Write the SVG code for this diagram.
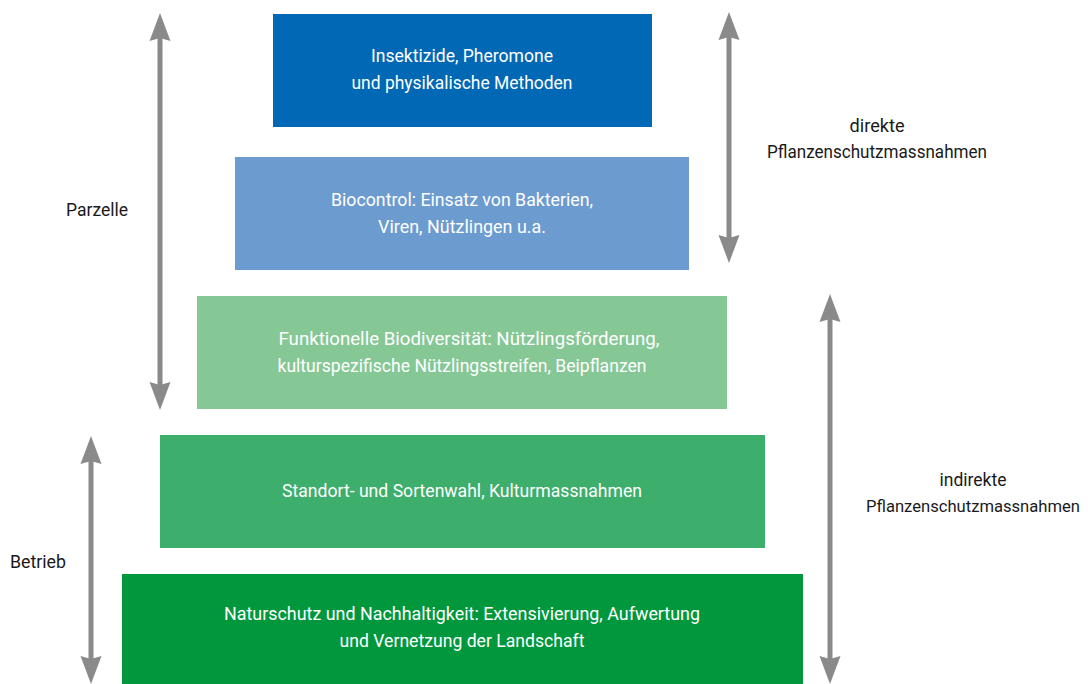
<svg xmlns="http://www.w3.org/2000/svg" width="1088" height="684" viewBox="0 0 1088 684">
  <style>
    .box-text { font-family: Roboto, "Liberation Sans", sans-serif; font-size: 18px; fill: #ffffff; text-anchor: middle; }
    .label { font-family: Roboto, "Liberation Sans", sans-serif; font-size: 18px; fill: #1a1a1a; text-anchor: middle; }
    .label-long { font-size: 17px; }
    .conn { stroke: #8a8a8a; stroke-width: 5; fill: none; }
  </style>
  <defs>
    <marker id="head" markerUnits="userSpaceOnUse" markerWidth="30" markerHeight="24" viewBox="0 -12 30 24" refX="8" refY="0" orient="auto-start-reverse">
      <path d="M0,-10.5 L28,0 L0,10.5 L3,0 Z" fill="#8a8a8a"/>
    </marker>
  </defs>
  <rect width="1088" height="684" fill="#ffffff"/>

  <!-- pyramid levels -->
  <g id="level-insektizide">
    <rect x="273" y="14" width="379" height="113" fill="#0068b4"/>
    <text class="box-text" x="462" y="62" textLength="182" lengthAdjust="spacingAndGlyphs">Insektizide, Pheromone</text>
    <text class="box-text" x="462" y="89" textLength="221" lengthAdjust="spacingAndGlyphs">und physikalische Methoden</text>
  </g>
  <g id="level-biocontrol">
    <rect x="235" y="157" width="454" height="113" fill="#6c9bcf"/>
    <text class="box-text" x="462" y="206" textLength="262" lengthAdjust="spacingAndGlyphs">Biocontrol: Einsatz von Bakterien,</text>
    <text class="box-text" x="462" y="233" textLength="168" lengthAdjust="spacingAndGlyphs">Viren, Nützlingen u.a.</text>
  </g>
  <g id="level-biodiversitaet">
    <rect x="197" y="296" width="530" height="113" fill="#86c796"/>
    <text class="box-text" x="469" y="345" textLength="381" lengthAdjust="spacingAndGlyphs">Funktionelle Biodiversität: Nützlingsförderung,</text>
    <text class="box-text" x="462" y="372" textLength="369" lengthAdjust="spacingAndGlyphs">kulturspezifische Nützlingsstreifen, Beipflanzen</text>
  </g>
  <g id="level-standort">
    <rect x="160" y="435" width="605" height="113" fill="#3dae6b"/>
    <text class="box-text" x="462" y="497" textLength="360" lengthAdjust="spacingAndGlyphs">Standort- und Sortenwahl, Kulturmassnahmen</text>
  </g>
  <g id="level-naturschutz">
    <rect x="122" y="574" width="681" height="110" fill="#00973d"/>
    <text class="box-text" x="462" y="620" textLength="476" lengthAdjust="spacingAndGlyphs">Naturschutz und Nachhaltigkeit: Extensivierung, Aufwertung</text>
    <text class="box-text" x="462" y="647" textLength="245" lengthAdjust="spacingAndGlyphs">und Vernetzung der Landschaft</text>
  </g>

  <!-- side labels -->
  <g id="label-parzelle">
    <text class="label" x="97" y="216" textLength="62" lengthAdjust="spacingAndGlyphs">Parzelle</text>
  </g>
  <g id="label-betrieb">
    <text class="label" x="38" y="568" textLength="56" lengthAdjust="spacingAndGlyphs">Betrieb</text>
  </g>
  <g id="label-direkt">
    <text class="label" x="877" y="132" textLength="55" lengthAdjust="spacingAndGlyphs">direkte</text>
    <text class="label" x="877" y="158" textLength="220" lengthAdjust="spacingAndGlyphs">Pflanzenschutzmassnahmen</text>
  </g>
  <g id="label-indirekt">
    <text class="label" x="973" y="486" textLength="67" lengthAdjust="spacingAndGlyphs">indirekte</text>
    <text class="label label-long" x="973" y="512" textLength="214" lengthAdjust="spacingAndGlyphs">Pflanzenschutzmassnahmen</text>
  </g>

  <!-- double-headed range arrows -->
  <g id="connectors">
    <line class="conn" x1="160" y1="33" x2="160" y2="390" marker-start="url(#head)" marker-end="url(#head)"/>
    <line class="conn" x1="729" y1="32" x2="729" y2="243" marker-start="url(#head)" marker-end="url(#head)"/>
    <line class="conn" x1="91" y1="456" x2="91" y2="664" marker-start="url(#head)" marker-end="url(#head)"/>
    <line class="conn" x1="830" y1="314" x2="830" y2="664" marker-start="url(#head)" marker-end="url(#head)"/>
  </g>
</svg>
